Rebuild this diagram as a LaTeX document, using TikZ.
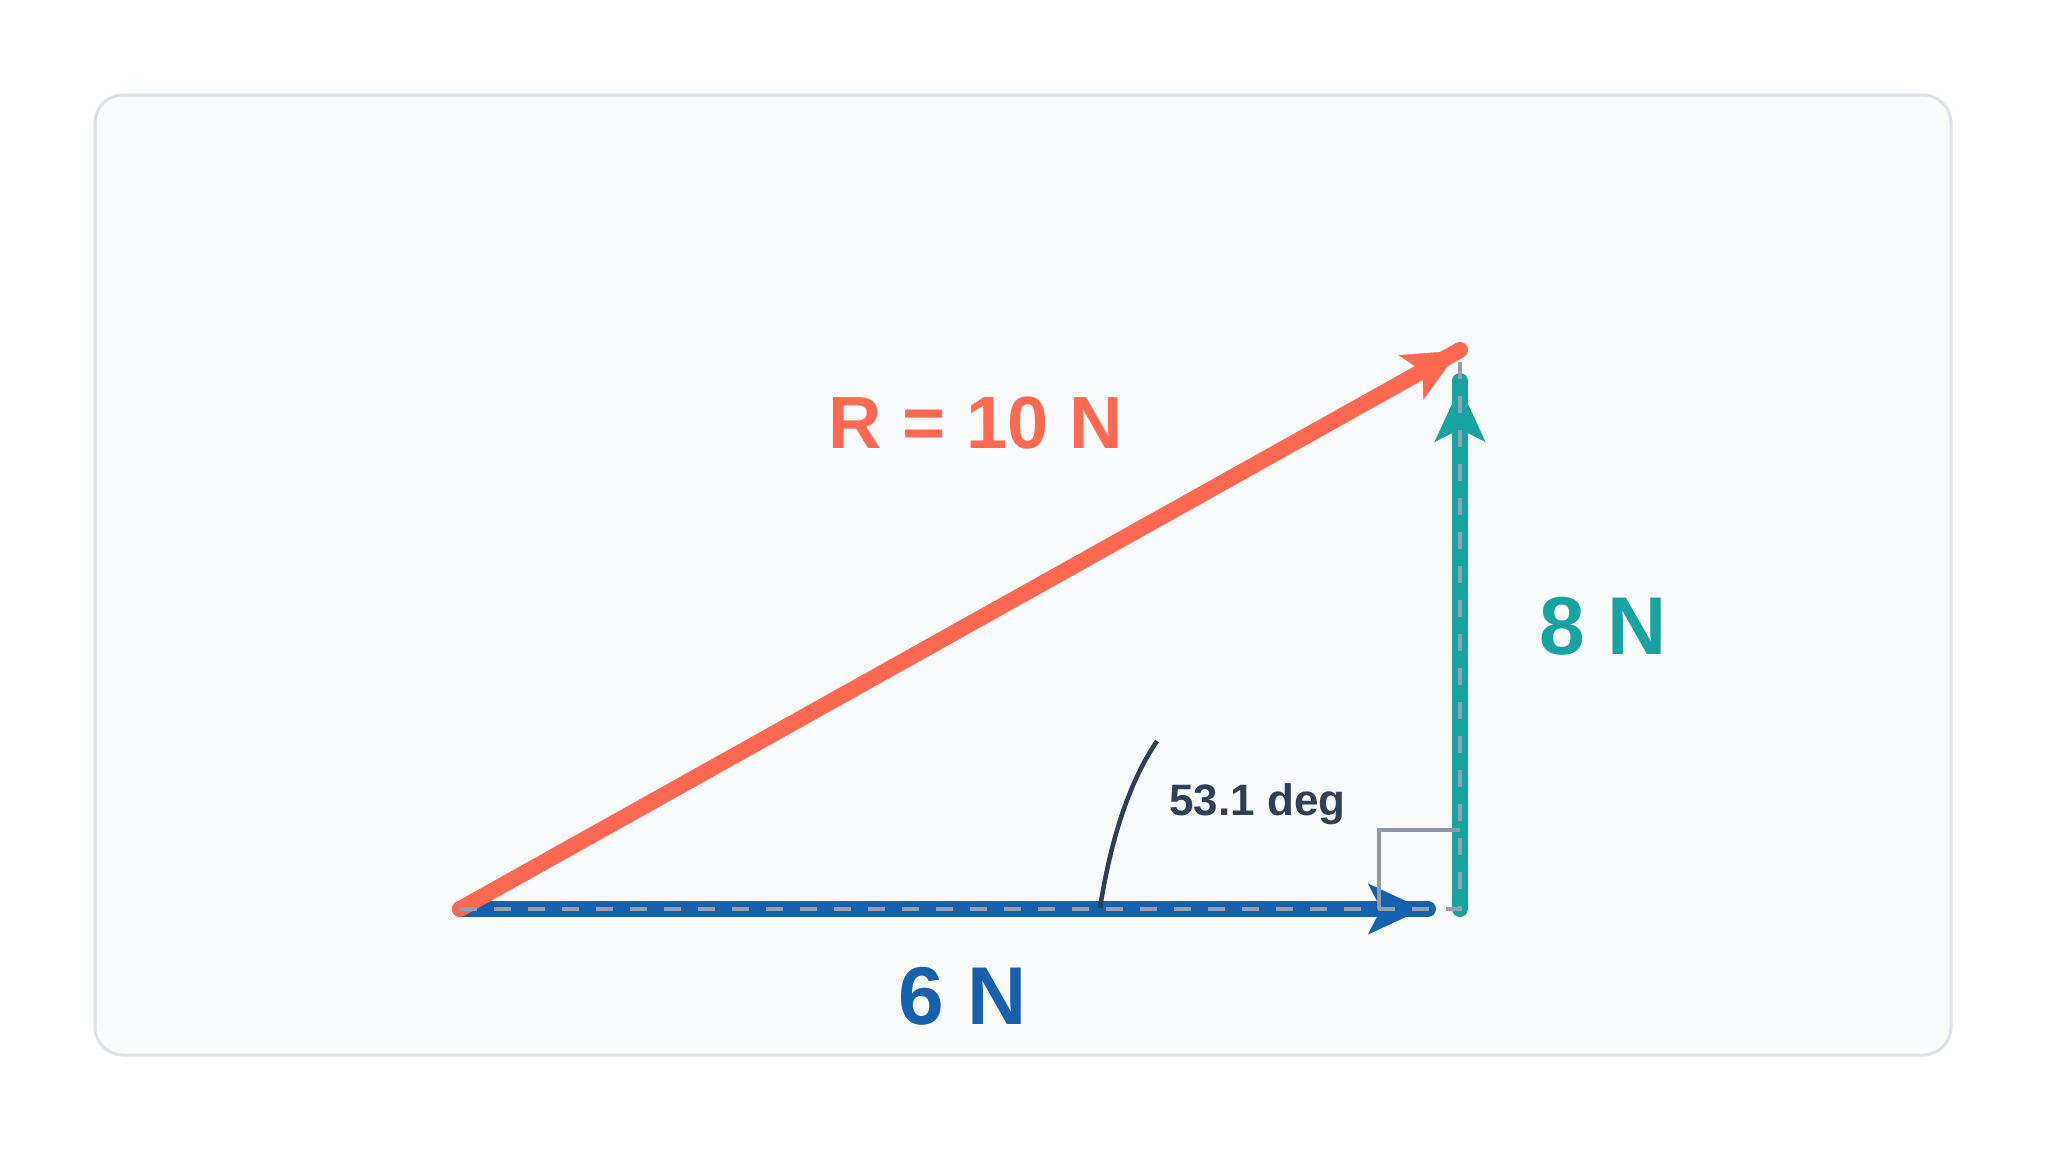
\documentclass[tikz,border=0pt]{standalone}
\usepackage{fontspec}
\setmainfont{Liberation Sans}
\usetikzlibrary{arrows.meta,calc}
\definecolor{redC}{HTML}{FF6952}
\definecolor{blueC}{HTML}{1660AE}
\definecolor{tealC}{HTML}{17A39F}
\definecolor{slateC}{HTML}{2F3F56}
\definecolor{guideC}{HTML}{94A0B2}
\definecolor{markC}{HTML}{8E99AA}
\definecolor{frameFill}{HTML}{F9FBFD}
\definecolor{frameLine}{HTML}{D9E2EC}
\tikzset{
  vecline/.style={line width=16pt, line cap=round},
  vectip/.style={line width=0.5pt, -{Stealth[length=55pt,width=51pt,inset=13pt]}},
  guide/.style={guideC, line width=4pt, dash pattern=on 17pt off 17pt},
  rightmark/.style={markC, line width=4pt},
  anglearc/.style={slateC, line width=4.5pt},
  biglabel/.style={font=\fontsize{82}{90}\selectfont\bfseries, inner sep=0pt, anchor=base},
}
\begin{document}
\begin{tikzpicture}[x=1pt,y=-1pt]
\useasboundingbox (0,0) rectangle (2048,1152);
\fill[white] (0,0) rectangle (2048,1152);
\draw[frameLine, fill=frameFill, line width=3pt, rounded corners=28pt] (95,95) rectangle (1951,1055);

% points
\coordinate (O) at (460,909);
\coordinate (Bend) at (1428,909);
\coordinate (Btip) at (1423,909);
\coordinate (C) at (1460,909);
\coordinate (Tend) at (1460,381);
\coordinate (Ttip) at (1460,387);
\coordinate (Rend) at (1460,350);
\coordinate (Rtip) at (1459,350.6);
\coordinate (Gtop) at (1460,350);
\coordinate (A0) at (1100,908);
\coordinate (A1) at (1157,741);
\coordinate (M1) at (1460,830);
\coordinate (M2) at (1379,830);
\coordinate (M3) at (1379,909);

% blue vector 6 N
\draw[blueC, vecline] (O) -- (Bend);
\draw[blueC, vectip] (O) -- (Btip);
% teal vector 8 N
\draw[tealC, vecline] (C) -- (Tend);
\draw[tealC, vectip] (C) -- (Ttip);
% red resultant
\draw[redC, vecline] (O) -- (Rend);
\draw[redC, vectip] (O) -- (Rtip);

% guide dashes
\draw[guide] (O) -- (C) -- (Gtop);

% right angle marker
\draw[rightmark] (M1) -- (M2) -- (M3);

% angle arc
\draw[anglearc] (A0) .. controls (1111.3,836) and (1130.3,780.3) .. (A1);

% labels
\node[biglabel, text=redC, font=\fontsize{74}{80}\selectfont\bfseries] (lR) at (976,448) {R = 10 N};
\node[biglabel, text=tealC] (l8) at (1603,654) {8 N};
\node[biglabel, text=blueC] (l6) at (962.5,1024) {6 N};
\node[inner sep=0pt, anchor=base, text=slateC, font=\fontsize{44}{50}\selectfont\bfseries] (lA) at (1257.5,815) {53.1 deg};
\end{tikzpicture}
\end{document}
